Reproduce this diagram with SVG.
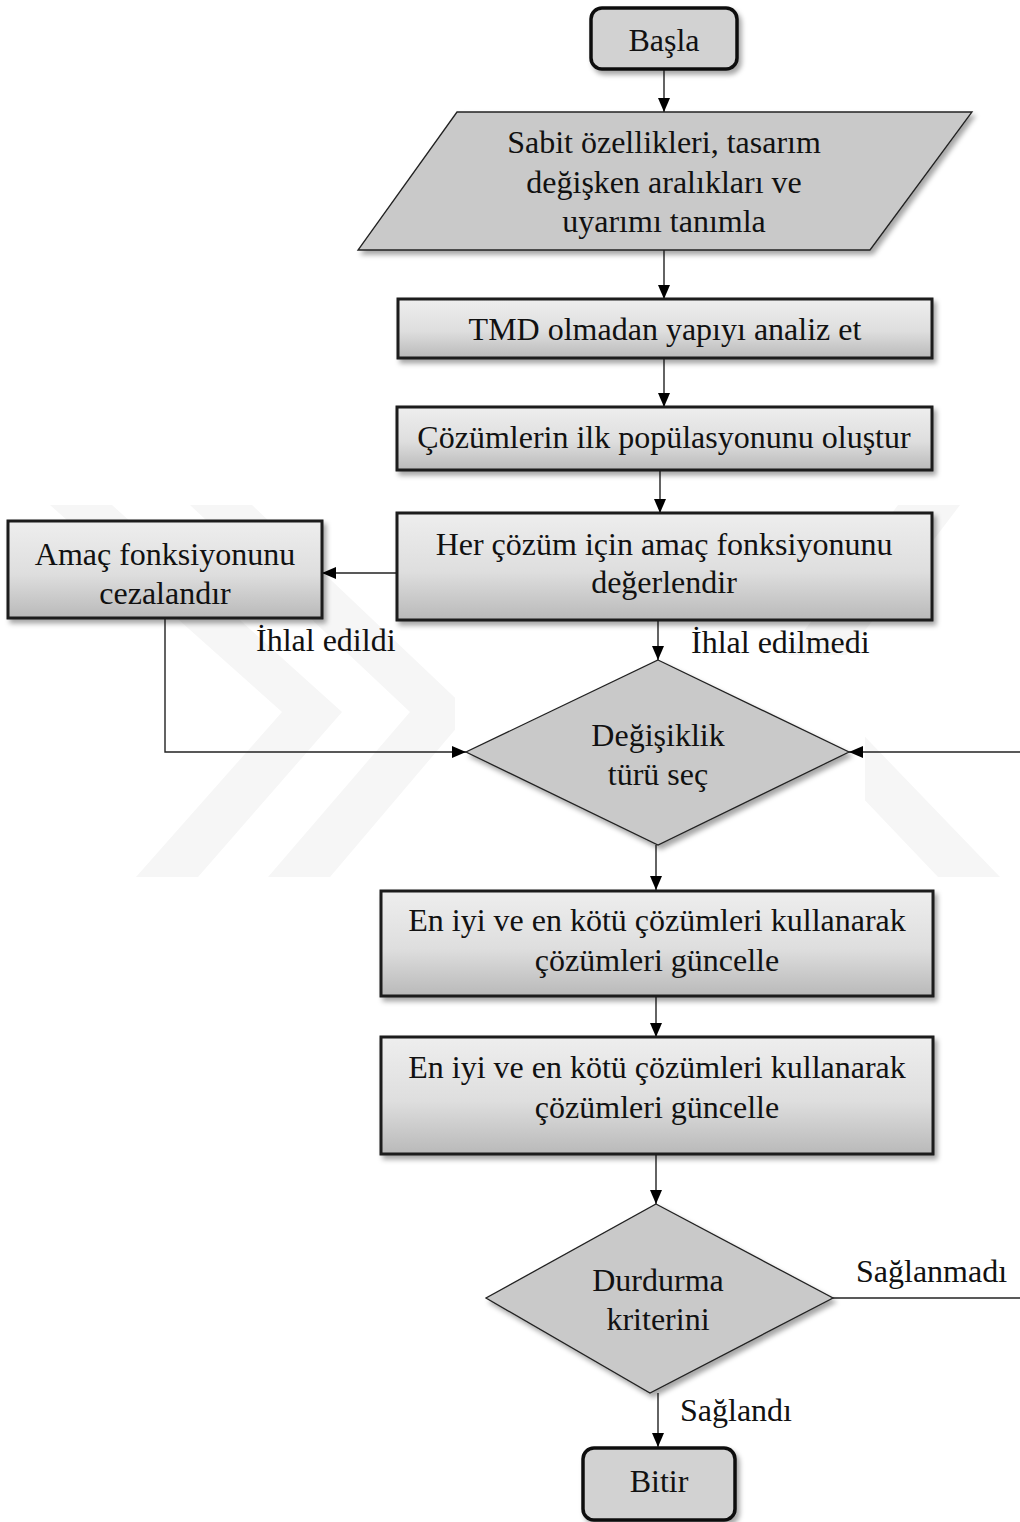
<svg xmlns="http://www.w3.org/2000/svg" width="1020" height="1522" viewBox="0 0 1020 1522">
<defs>
<linearGradient id="g" x1="0" y1="0" x2="0" y2="1">
<stop offset="0" stop-color="#eeeeee"/>
<stop offset="0.55" stop-color="#dedede"/>
<stop offset="1" stop-color="#b9b9b9"/>
</linearGradient>
<filter id="sh" x="-10%" y="-10%" width="125%" height="130%">
<feDropShadow dx="3" dy="4" stdDeviation="2.5" flood-color="#000" flood-opacity="0.35"/>
</filter>
<marker id="ah" viewBox="0 0 14 12" refX="14" refY="6" markerWidth="14" markerHeight="12" markerUnits="userSpaceOnUse" orient="auto">
<path d="M0,0 L14,6 L0,12 Z" fill="#000"/>
</marker>
<style>
.t{font-family:"Liberation Serif","Times New Roman",serif;font-size:32px;fill:#111;text-anchor:middle}
.l{font-family:"Liberation Serif","Times New Roman",serif;font-size:32px;fill:#111}
.box{fill:url(#g);stroke:#1a1a1a;stroke-width:3;filter:url(#sh)}
.term{fill:#d2d2d2;stroke:#111;stroke-width:3.5;filter:url(#sh)}
.shape{fill:#c9c9c9;stroke:#222;stroke-width:1.3;filter:url(#sh)}
.c{fill:none;stroke:#222;stroke-width:1.4}
.wm{fill:#f6f6f6}
</style>
</defs>
<rect width="1020" height="1522" fill="#fff"/>
<g id="watermark">
<polygon class="wm" points="50,505 112,505 342,712 198,877 136,877 282,712"/>
<polygon class="wm" points="190,505 252,505 470,712 330,877 268,877 410,712"/>
<polygon class="wm" points="898,505 960,505 820,690 1000,877 938,877 760,690"/>
<rect x="455" y="655" width="410" height="210" fill="#fff"/>
</g>
<g id="connectors">
<line class="c" x1="664" y1="69" x2="664" y2="112" marker-end="url(#ah)"/>
<line class="c" x1="664" y1="250" x2="664" y2="299" marker-end="url(#ah)"/>
<line class="c" x1="664" y1="358" x2="664" y2="407" marker-end="url(#ah)"/>
<line class="c" x1="660" y1="470" x2="660" y2="513" marker-end="url(#ah)"/>
<line class="c" x1="397" y1="573" x2="322" y2="573" marker-end="url(#ah)"/>
<polyline class="c" points="165,618 165,752 466,752" marker-end="url(#ah)"/>
<line class="c" x1="658" y1="620" x2="658" y2="660" marker-end="url(#ah)"/>
<line class="c" x1="1020" y1="752" x2="849" y2="752" marker-end="url(#ah)"/>
<line class="c" x1="656" y1="845" x2="656" y2="890" marker-end="url(#ah)"/>
<line class="c" x1="656" y1="996" x2="656" y2="1037" marker-end="url(#ah)"/>
<line class="c" x1="656" y1="1154" x2="656" y2="1204" marker-end="url(#ah)"/>
<line class="c" x1="833" y1="1298" x2="1020" y2="1298"/>
<line class="c" x1="658" y1="1393" x2="658" y2="1447" marker-end="url(#ah)"/>
<text class="l" x="256" y="651">İhlal edildi</text>
<text class="l" x="691" y="653">İhlal edilmedi</text>
<text class="l" x="856" y="1282">Sağlanmadı</text>
<text class="l" x="680" y="1421">Sağlandı</text>
</g>
<g id="start">
<rect class="term" x="591" y="8" width="146" height="61" rx="11"/>
<text class="t" x="664" y="51">Başla</text>
</g>
<g id="input">
<polygon class="shape" points="457,112 972,112 870,250 358,250"/>
<text class="t" x="664" y="153">Sabit özellikleri, tasarım</text>
<text class="t" x="664" y="193">değişken aralıkları ve</text>
<text class="t" x="664" y="232">uyarımı tanımla</text>
</g>
<g id="analyze">
<rect class="box" x="398" y="299" width="534" height="59"/>
<text class="t" x="665" y="340">TMD olmadan yapıyı analiz et</text>
</g>
<g id="init">
<rect class="box" x="397" y="407" width="535" height="63"/>
<text class="t" x="664" y="448">Çözümlerin ilk popülasyonunu oluştur</text>
</g>
<g id="evaluate">
<rect class="box" x="397" y="513" width="535" height="107"/>
<text class="t" x="664" y="555">Her çözüm için amaç fonksiyonunu</text>
<text class="t" x="664" y="593">değerlendir</text>
</g>
<g id="penalize">
<rect class="box" x="8" y="521" width="314" height="97"/>
<text class="t" x="165" y="565">Amaç fonksiyonunu</text>
<text class="t" x="165" y="604">cezalandır</text>
</g>
<g id="choose">
<polygon class="shape" points="658,660 849,752 658,845 466,752"/>
<text class="t" x="658" y="746">Değişiklik</text>
<text class="t" x="658" y="785">türü seç</text>
</g>
<g id="update1">
<rect class="box" x="381" y="891" width="552" height="105"/>
<text class="t" x="657" y="931">En iyi ve en kötü çözümleri kullanarak</text>
<text class="t" x="657" y="971">çözümleri güncelle</text>
</g>
<g id="update2">
<rect class="box" x="381" y="1037" width="552" height="117"/>
<text class="t" x="657" y="1078">En iyi ve en kötü çözümleri kullanarak</text>
<text class="t" x="657" y="1118">çözümleri güncelle</text>
</g>
<g id="stop">
<polygon class="shape" points="656,1204 833,1298 650,1393 486,1298"/>
<text class="t" x="658" y="1291">Durdurma</text>
<text class="t" x="658" y="1330">kriterini</text>
</g>
<g id="end">
<rect class="term" x="583" y="1448" width="152" height="72" rx="11"/>
<text class="t" x="659" y="1492">Bitir</text>
</g>
</svg>
